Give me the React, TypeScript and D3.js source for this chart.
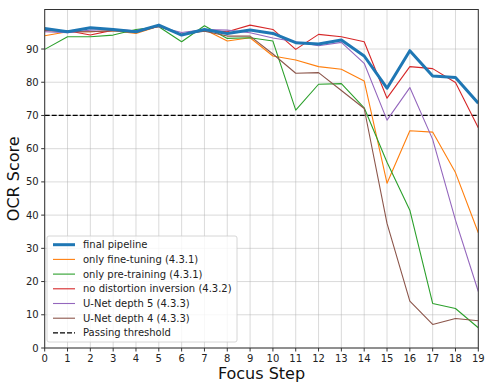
import React, { useRef, useEffect } from "react";
import * as d3 from "d3";

const steps = d3.range(0, 20);
const finalPipeline = [96.2, 95.2, 96.4, 95.9, 95.2, 97.2, 94.2, 95.9, 94.7, 95.7, 94.7, 91.9, 91.5, 92.7, 87.9, 78.2, 89.5, 81.9, 81.4, 73.7];
const onlyFineTuning = [94.0, 95.2, 95.2, 95.5, 94.7, 96.9, 94.2, 95.9, 92.4, 93.4, 87.9, 86.7, 84.7, 83.9, 80.4, 49.6, 65.4, 65.0, 52.8, 34.7];
const onlyPreTraining = [89.9, 93.7, 93.7, 94.2, 95.9, 96.7, 92.2, 97.0, 93.2, 93.4, 92.4, 71.6, 79.4, 79.6, 72.3, 55.9, 41.5, 13.4, 11.9, 6.1];
const noDistortion = [95.5, 95.5, 94.2, 95.7, 95.5, 96.9, 94.4, 95.7, 95.2, 97.2, 95.9, 89.9, 94.4, 93.7, 92.2, 75.2, 84.7, 84.1, 79.9, 66.3];
const unetDepth5 = [95.2, 94.9, 95.7, 95.9, 95.5, 96.7, 95.0, 95.9, 95.7, 94.9, 93.3, 92.2, 91.0, 92.0, 85.7, 68.6, 78.4, 62.8, 38.5, 17.0];
const unetDepth4 = [95.7, 95.2, 95.2, 95.5, 95.0, 96.9, 94.4, 95.4, 93.9, 93.9, 88.5, 82.7, 82.9, 77.5, 72.1, 37.5, 14.1, 7.1, 8.9, 8.2];
const threshold = 70;
const yTicks = [0, 10, 20, 30, 40, 50, 60, 70, 80, 90];

const series = [
  { name: "final pipeline", values: finalPipeline, color: "#1f77b4", width: 3 },
  { name: "only fine-tuning (4.3.1)", values: onlyFineTuning, color: "#ff7f0e", width: 1.1 },
  { name: "only pre-training (4.3.1)", values: onlyPreTraining, color: "#2ca02c", width: 1.1 },
  { name: "no distortion inversion (4.3.2)", values: noDistortion, color: "#d62728", width: 1.1 },
  { name: "U-Net depth 5 (4.3.3)", values: unetDepth5, color: "#9467bd", width: 1.1 },
  { name: "U-Net depth 4 (4.3.3)", values: unetDepth4, color: "#8c564b", width: 1.1 },
];

const App = () => {
  const svgRef = useRef<SVGSVGElement>(null);

  useEffect(() => {
    document.body.style.margin = "0";
    const left = 44.7, right = 478.3, top = 9.5, bottom = 348;
    const font = "DejaVu Sans, sans-serif";

    const svg = d3.select(svgRef.current);
    svg.selectAll("*").remove();
    svg.attr("width", 489).attr("height", 386);
    svg.append("rect").attr("width", 489).attr("height", 386).attr("fill", "white");

    const x = d3.scaleLinear().domain([0, 19]).range([left, right]);
    const y = d3.scaleLinear().domain([0, 101.9]).range([bottom, top]);

    // grid
    const grid = svg.append("g").attr("stroke", "#b0b0b0").attr("stroke-width", 0.8).attr("stroke-opacity", 0.6);
    steps.forEach((s) => {
      grid.append("line").attr("x1", x(s)).attr("x2", x(s)).attr("y1", top).attr("y2", bottom);
    });
    yTicks.forEach((t) => {
      grid.append("line").attr("x1", left).attr("x2", right).attr("y1", y(t)).attr("y2", y(t));
    });

    // threshold
    svg
      .append("line")
      .attr("x1", left)
      .attr("x2", right)
      .attr("y1", y(threshold))
      .attr("y2", y(threshold))
      .attr("stroke", "black")
      .attr("stroke-width", 1.3)
      .attr("stroke-dasharray", "5,2");

    const clip = svg.append("defs").append("clipPath").attr("id", "plotclip");
    clip.append("rect").attr("x", left).attr("y", top).attr("width", right - left).attr("height", bottom - top);

    const line = d3
      .line<number>()
      .x((d, i) => x(steps[i]))
      .y((d) => y(d));

    const lines = svg.append("g").attr("clip-path", "url(#plotclip)");
    // draw others first, final pipeline last on top
    [...series.slice(1), series[0]].forEach((s) => {
      lines
        .append("path")
        .datum(s.values)
        .attr("d", line)
        .attr("fill", "none")
        .attr("stroke", s.color)
        .attr("stroke-width", s.width)
        .attr("stroke-linejoin", "round");
    });

    // frame
    svg
      .append("rect")
      .attr("x", left)
      .attr("y", top)
      .attr("width", right - left)
      .attr("height", bottom - top)
      .attr("fill", "none")
      .attr("stroke", "#333")
      .attr("stroke-width", 1);

    // axes ticks
    const xAxis = svg.append("g").attr("transform", `translate(0,${bottom})`);
    steps.forEach((s) => {
      xAxis.append("line").attr("x1", x(s)).attr("x2", x(s)).attr("y1", 0).attr("y2", 3.5).attr("stroke", "#333");
      xAxis
        .append("text")
        .attr("x", x(s))
        .attr("y", 14)
        .attr("text-anchor", "middle")
        .style("font-family", font)
        .style("font-size", "10px")
        .attr("fill", "#222")
        .text(s);
    });
    const yAxis = svg.append("g");
    yTicks.forEach((t) => {
      yAxis.append("line").attr("x1", left - 3.5).attr("x2", left).attr("y1", y(t)).attr("y2", y(t)).attr("stroke", "#333");
      yAxis
        .append("text")
        .attr("x", left - 6)
        .attr("y", y(t) + 3.5)
        .attr("text-anchor", "end")
        .style("font-family", font)
        .style("font-size", "10px")
        .attr("fill", "#222")
        .text(t);
    });

    svg
      .append("text")
      .attr("x", (left + right) / 2)
      .attr("y", 379)
      .attr("text-anchor", "middle")
      .style("font-family", font)
      .style("font-size", "16px")
      .attr("fill", "#111")
      .text("Focus Step");
    svg
      .append("text")
      .attr("transform", `translate(19,${(top + bottom) / 2}) rotate(-90)`)
      .attr("text-anchor", "middle")
      .style("font-family", font)
      .style("font-size", "16px")
      .attr("fill", "#111")
      .text("OCR Score");

    // legend
    const legend = svg.append("g");
    legend
      .append("rect")
      .attr("x", 47)
      .attr("y", 236)
      .attr("width", 190)
      .attr("height", 106)
      .attr("rx", 2)
      .attr("fill", "white")
      .attr("fill-opacity", 0.8)
      .attr("stroke", "#ccc")
      .attr("stroke-width", 0.8);
    const items = [
      ...series.map((s) => ({ name: s.name, color: s.color, width: s.width, dash: "none" })),
      { name: "Passing threshold", color: "black", width: 1.3, dash: "5,2" },
    ];
    items.forEach((it, i) => {
      const ly = 244.7 + i * 14.7;
      legend
        .append("line")
        .attr("x1", 53)
        .attr("x2", 75)
        .attr("y1", ly)
        .attr("y2", ly)
        .attr("stroke", it.color)
        .attr("stroke-width", it.width)
        .attr("stroke-dasharray", it.dash);
      legend
        .append("text")
        .attr("x", 83)
        .attr("y", ly + 3.5)
        .style("font-family", font)
        .style("font-size", "10px")
        .attr("fill", "#222")
        .text(it.name);
    });
  }, []);

  return (
    <div style={{ width: 489, height: 386 }}>
      <svg ref={svgRef} style={{ display: "block" }}></svg>
    </div>
  );
};

export default App;
